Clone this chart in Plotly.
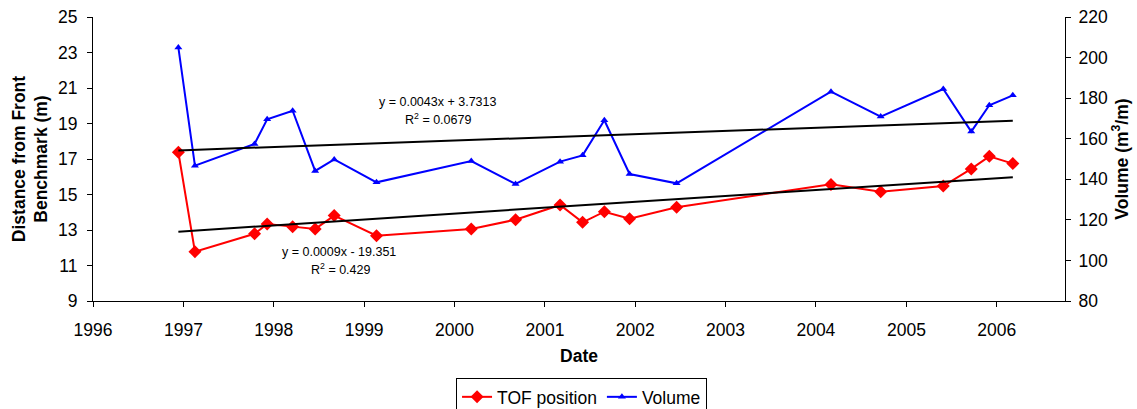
import numpy as np
import pandas as pd
import plotly.graph_objects as go

# ---- data ----
dates = ["1996-12-11", "1997-02-16", "1997-10-15", "1997-12-05", "1998-03-18",
         "1998-06-17", "1998-09-02", "1999-02-20", "2000-03-09", "2000-09-04",
         "2001-03-03", "2001-06-02", "2001-08-29", "2001-12-09", "2002-06-17",
         "2004-03-02", "2004-09-19", "2005-05-30", "2005-09-20", "2005-12-02",
         "2006-03-07"]
tof_position = [17.38, 11.78, 12.79, 13.34, 13.19, 13.06, 13.81, 12.68, 13.06, 13.58,
                14.41, 13.43, 14.03, 13.64, 14.28, 15.57, 15.16, 15.48, 16.44, 17.15,
                16.74]
volume = [205.0, 146.7, 157.4, 169.6, 173.8, 144.1, 149.8, 138.5, 149.0, 137.7,
          148.7, 151.8, 169.1, 142.6, 138.0, 183.2, 170.9, 184.5, 163.5, 176.5,
          181.4]
tick_years = list(range(1996, 2007))
left_ticks = list(range(9, 26, 2))
right_ticks = list(range(80, 221, 20))

FONT = "Arial, 'Liberation Sans', sans-serif"
BIG = 17.5

# linear trendlines (least squares on Excel date serials)
d = pd.to_datetime(dates)
xnum = np.array((d - pd.Timestamp("1899-12-30")).days, dtype=float)
p_tof = np.polyfit(xnum, tof_position, 1)
p_vol = np.polyfit(xnum, volume, 1)
trend_x = [dates[0], dates[-1]]
trend_tof = list(np.polyval(p_tof, xnum[[0, -1]]))
trend_vol = list(np.polyval(p_vol, xnum[[0, -1]]))

fig = go.Figure()
fig.add_trace(go.Scatter(
    x=dates, y=tof_position, name="TOF position", mode="lines+markers",
    line=dict(color="#FF0000", width=2),
    marker=dict(symbol="diamond", size=10, color="#FF0000"),
    yaxis="y"))
fig.add_trace(go.Scatter(
    x=dates, y=volume, name="Volume", mode="lines+markers",
    line=dict(color="#0000FF", width=2),
    marker=dict(symbol="triangle-up", size=7, color="#0000FF"),
    yaxis="y2"))
fig.add_trace(go.Scatter(
    x=trend_x, y=trend_vol, mode="lines", showlegend=False,
    line=dict(color="black", width=2), yaxis="y2", hoverinfo="skip"))
fig.add_trace(go.Scatter(
    x=trend_x, y=trend_tof, mode="lines", showlegend=False,
    line=dict(color="black", width=2), yaxis="y", hoverinfo="skip"))

fig.update_layout(
    width=1137, height=409,
    margin=dict(l=93, r=72, t=17, b=108, autoexpand=False),
    paper_bgcolor="white", plot_bgcolor="white",
    font=dict(family=FONT, size=BIG, color="black"),
    showlegend=True,
    legend=dict(orientation="h", x=0.3735, y=-0.271, xanchor="left", yanchor="top",
                bordercolor="black", borderwidth=1, bgcolor="white",
                font=dict(size=BIG), itemwidth=30, tracegroupgap=0),
    xaxis=dict(
        type="date", range=["1996-01-01", "2006-10-04"],
        tickvals=[f"{y}-01-01" for y in tick_years],
        ticktext=[str(y) for y in tick_years],
        ticks="outside", ticklen=5, tickcolor="black",
        showline=True, linecolor="black", linewidth=1,
        showgrid=False, zeroline=False, ticklabelstandoff=8,
        title=dict(text="<b>Date</b>", font=dict(size=BIG), standoff=10)),
    yaxis=dict(
        range=[9, 25], tickvals=left_ticks,
        ticks="outside", ticklen=5, tickcolor="black",
        showline=True, linecolor="black", linewidth=1,
        showgrid=False, zeroline=False, ticklabelstandoff=6,
        title=dict(text="<b>Distance from Front<br>Benchmark (m)</b>",
                   font=dict(size=BIG), standoff=5)),
    yaxis2=dict(
        range=[80, 220], tickvals=right_ticks, overlaying="y", side="right",
        ticks="outside", ticklen=5, tickcolor="black",
        showline=True, linecolor="black", linewidth=1,
        showgrid=False, zeroline=False, ticklabelstandoff=4,
        title=dict(text="<b>Volume (m<sup>3</sup>/m)</b>", font=dict(size=BIG),
                   standoff=8)),
    yaxis3=dict(
        range=[80, 220], tickvals=right_ticks, overlaying="y", side="right",
        anchor="x", ticks="inside", ticklen=5, tickcolor="black",
        showticklabels=False, showline=False, showgrid=False, zeroline=False),
)

ann_font = dict(family=FONT, size=12.5, color="black")
annotations = [
    ("y = 0.0043x + 3.7313", 438, 102),
    ("R<sup>2</sup> = 0.0679", 438, 119),
    ("y = 0.0009x - 19.351", 339, 252),
    ("R<sup>2</sup> = 0.429", 340, 269),
]
for text, px, py in annotations:
    fig.add_annotation(text=text, xref="paper", yref="paper",
                       x=(px - 93) / 972, y=(301 - py) / 284,
                       xanchor="center", yanchor="middle",
                       showarrow=False, font=ann_font)

fig.write_html("out.html")
